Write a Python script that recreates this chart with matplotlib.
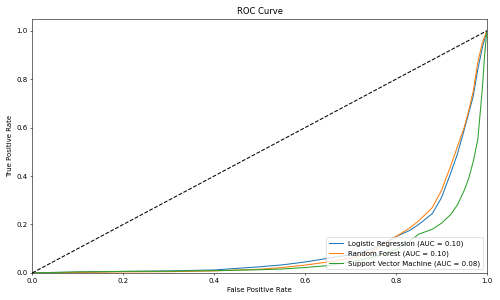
import matplotlib
matplotlib.use("Agg")
import matplotlib.pyplot as plt

# false positive rate grid
fpr = [0.0, 0.1, 0.2, 0.3, 0.4, 0.5, 0.55, 0.6, 0.65, 0.7, 0.75, 0.8, 0.83,
       0.85, 0.88, 0.9, 0.92, 0.935, 0.95, 0.96, 0.97, 0.98, 0.99, 0.995, 1.0]

# true positive rates per model
tpr_lr = [0.0, 0.003, 0.006, 0.008, 0.012, 0.025, 0.033, 0.045, 0.06, 0.075, 0.1, 0.15,
          0.175, 0.2, 0.245, 0.31, 0.41, 0.49, 0.59, 0.66, 0.73, 0.84, 0.93, 0.965, 1.0]
tpr_rf = [0.0, 0.002, 0.004, 0.005, 0.008, 0.015, 0.022, 0.032, 0.045, 0.06, 0.09, 0.15,
          0.185, 0.215, 0.27, 0.34, 0.44, 0.52, 0.6, 0.67, 0.75, 0.87, 0.95, 0.975, 1.0]
tpr_svm = [0.0, 0.004, 0.006, 0.007, 0.009, 0.013, 0.016, 0.022, 0.03, 0.045, 0.065, 0.096,
           0.13, 0.16, 0.18, 0.205, 0.24, 0.28, 0.34, 0.39, 0.46, 0.55, 0.76, 0.9, 1.0]

labels = ["Logistic Regression (AUC = 0.10)",
          "Random Forest (AUC = 0.10)",
          "Support Vector Machine (AUC = 0.08)"]

fig = plt.figure(figsize=(10, 6), dpi=50)
plt.plot(fpr, tpr_lr, label=labels[0])
plt.plot(fpr, tpr_rf, label=labels[1])
plt.plot(fpr, tpr_svm, label=labels[2])
plt.plot([0, 1], [0, 1], 'k--')
plt.xlim(0.0, 1.0)
plt.ylim(0.0, 1.05)
plt.xlabel('False Positive Rate')
plt.ylabel('True Positive Rate')
plt.title('ROC Curve')
plt.legend(loc="lower right")
plt.tight_layout()
plt.savefig("out.png", dpi=50)
